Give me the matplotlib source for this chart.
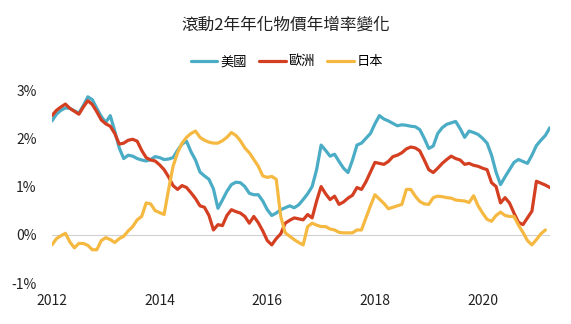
import numpy as np
import matplotlib.pyplot as plt

plt.rcParams['font.family'] = ['Noto Sans CJK TC', 'DejaVu Sans']

# monthly, Jan 2012 .. Apr 2021 (rolling 2y annualized CPI, %)
us = [2.36, 2.50, 2.58, 2.63, 2.62, 2.57, 2.52, 2.68, 2.86, 2.80, 2.62, 2.45,
      2.33, 2.47, 2.15, 1.80, 1.58, 1.65, 1.63, 1.58, 1.55, 1.53, 1.56, 1.62,
      1.60, 1.56, 1.57, 1.60, 1.75, 1.88, 1.94, 1.72, 1.55, 1.30, 1.22, 1.15,
      0.95, 0.55, 0.72, 0.90, 1.04, 1.09, 1.08, 1.00, 0.86, 0.83, 0.83, 0.70,
      0.52, 0.40, 0.45, 0.52, 0.56, 0.60, 0.56, 0.62, 0.73, 0.85, 1.00, 1.35,
      1.86, 1.75, 1.63, 1.67, 1.52, 1.38, 1.29, 1.55, 1.86, 1.90, 2.00, 2.10,
      2.30, 2.47, 2.40, 2.36, 2.31, 2.26, 2.28, 2.27, 2.25, 2.24, 2.18, 2.00,
      1.79, 1.84, 2.10, 2.22, 2.29, 2.32, 2.35, 2.20, 2.02, 2.15, 2.12, 2.08,
      2.00, 1.90, 1.65, 1.30, 1.04, 1.20, 1.35, 1.50, 1.56, 1.52, 1.48, 1.65,
      1.85, 1.96, 2.06, 2.22]
eu = [2.47, 2.58, 2.65, 2.71, 2.62, 2.56, 2.50, 2.65, 2.78, 2.70, 2.55, 2.38,
      2.30, 2.25, 2.10, 1.88, 1.90, 1.96, 1.98, 1.94, 1.75, 1.60, 1.55, 1.53,
      1.45, 1.35, 1.20, 1.02, 0.94, 1.02, 0.98, 0.87, 0.75, 0.60, 0.57, 0.40,
      0.10, 0.21, 0.19, 0.40, 0.52, 0.48, 0.45, 0.38, 0.24, 0.38, 0.25, 0.08,
      -0.12, -0.21, -0.08, 0.02, 0.24, 0.30, 0.35, 0.33, 0.31, 0.42, 0.35, 0.70,
      1.00, 0.85, 0.73, 0.80, 0.63, 0.68, 0.76, 0.82, 0.98, 0.94, 1.10, 1.30,
      1.50, 1.48, 1.46, 1.52, 1.62, 1.65, 1.70, 1.78, 1.82, 1.80, 1.74, 1.55,
      1.35, 1.29, 1.38, 1.48, 1.56, 1.63, 1.58, 1.55, 1.46, 1.48, 1.44, 1.42,
      1.38, 1.35, 1.08, 1.00, 0.66, 0.77, 0.66, 0.45, 0.26, 0.21, 0.35, 0.49,
      1.11, 1.07, 1.03, 0.98]
jp = [-0.21, -0.08, -0.02, 0.03, -0.15, -0.27, -0.18, -0.18, -0.22, -0.31, -0.31, -0.12,
      -0.06, -0.10, -0.16, -0.08, -0.03, 0.08, 0.17, 0.31, 0.38, 0.66, 0.64, 0.50,
      0.46, 0.42, 0.94, 1.42, 1.70, 1.90, 2.02, 2.10, 2.15, 2.02, 1.96, 1.92,
      1.90, 1.90, 1.95, 2.02, 2.12, 2.06, 1.95, 1.80, 1.70, 1.56, 1.42, 1.22,
      1.19, 1.21, 1.15, 0.38, 0.04, -0.03, -0.10, -0.16, -0.21, 0.17, 0.24, 0.20,
      0.17, 0.17, 0.12, 0.10, 0.05, 0.04, 0.04, 0.04, 0.10, 0.10, 0.35, 0.60,
      0.83, 0.74, 0.65, 0.54, 0.57, 0.60, 0.63, 0.94, 0.94, 0.80, 0.69, 0.64,
      0.63, 0.77, 0.80, 0.79, 0.77, 0.76, 0.72, 0.71, 0.70, 0.67, 0.81, 0.60,
      0.45, 0.32, 0.28, 0.40, 0.47, 0.40, 0.38, 0.38, 0.20, 0.05, -0.12, -0.21,
      -0.10, 0.02, 0.10, np.nan]

years = ['2012', '2014', '2016', '2018', '2020']
names = ['美國', '歐洲', '日本']
colors = ['#4bacc6', '#d43f22', '#f5b942']

fig = plt.figure(figsize=(5.71, 3.24), dpi=100)
ax = fig.add_axes([0.091, 0.1265, 0.872, 0.5955])

x = np.arange(len(us))
for s, name, c in zip([us, eu, jp], names, colors):
    ax.plot(x, s, color=c, lw=2.3, label=name, solid_capstyle='round', solid_joinstyle='round')

ax.axhline(0, color='#d0d0d0', lw=0.8, zorder=0)
ax.set_xlim(0, len(us) - 1)
ax.set_ylim(-1, 3)
ax.set_yticks([-1, 0, 1, 2, 3])
ax.set_yticklabels(['-1%', '0%', '1%', '2%', '3%'])
ax.set_xticks(np.arange(len(years)) * 24)
ax.set_xticklabels(years)
for sp in ax.spines.values():
    sp.set_visible(False)
ax.tick_params(axis='y', length=0, pad=11, labelsize=10, colors='#222222')
ax.tick_params(axis='x', length=0, pad=8, labelsize=10, colors='#222222')

fig.text(0.5, 0.923, '滾動2年年化物價年增率變化', ha='center', va='center', fontsize=12, color='#222222')
fig.legend(loc='center', bbox_to_anchor=(0.503, 0.809), ncol=3, frameon=False,
           fontsize=9.5, handlelength=2.0, handletextpad=0.25, columnspacing=0.9)

fig.savefig('out.png', dpi=100)
